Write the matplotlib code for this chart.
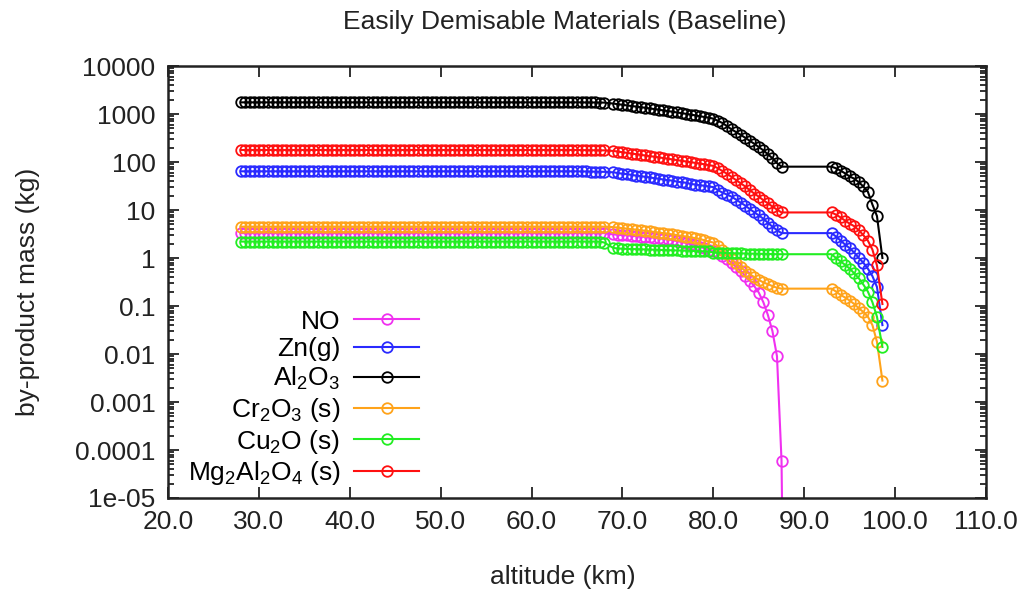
import numpy as np
import matplotlib.pyplot as plt
from matplotlib.ticker import FixedLocator, LogLocator, NullFormatter

plt.rcParams["font.family"] = ["Liberation Sans", "DejaVu Sans"]
plt.rcParams["mathtext.fontset"] = "custom"
plt.rcParams["mathtext.rm"] = "Liberation Sans"
plt.rcParams["mathtext.it"] = "Liberation Sans:italic"

# altitude grid (km)
alt_high = [28.0, 28.5, 29.0, 29.5, 30.0, 30.5, 31.0, 31.5, 32.0, 32.5, 33.0, 33.5, 34.0, 34.5,
            35.0, 35.5, 36.0, 36.5, 37.0, 37.5, 38.0, 38.5, 39.0, 39.5, 40.0, 40.5, 41.0, 41.5,
            42.0, 42.5, 43.0, 43.5, 44.0, 44.5, 45.0, 45.5, 46.0, 46.5, 47.0, 47.5, 48.0, 48.5,
            49.0, 49.5, 50.0, 50.5, 51.0, 51.5, 52.0, 52.5, 53.0, 53.5, 54.0, 54.5, 55.0, 55.5,
            56.0, 56.5, 57.0, 57.5, 58.0, 58.5, 59.0, 59.5, 60.0, 60.5, 61.0, 61.5, 62.0, 62.5,
            63.0, 63.5, 64.0, 64.5, 65.0, 65.5, 66.0, 66.5, 67.0, 67.5, 68.0]
alt_mid = [69.0, 69.5, 70.0, 70.5, 71.0, 71.5, 72.0, 72.5, 73.0, 73.5, 74.0, 74.5, 75.0,
           75.5, 76.0, 76.5, 77.0, 77.5, 78.0, 78.5, 79.0, 79.5, 80.0, 80.5, 81.0, 81.5,
           82.0, 82.5, 83.0, 83.5, 84.0, 84.5, 85.0, 85.5, 86.0, 86.5, 87.0, 87.5]
alt_low = [93.0, 93.5, 94.0, 94.5, 95.0, 95.5, 96.0, 96.5, 97.0, 97.5, 98.0, 98.6]

# by-product mass (kg) per species
al2o3_high = [1750, 1750, 1750, 1750, 1750, 1750, 1750, 1750, 1750, 1750, 1750, 1750, 1750, 1750,
              1750, 1750, 1750, 1750, 1750, 1750, 1750, 1750, 1750, 1750, 1750, 1750, 1750, 1750,
              1750, 1750, 1750, 1750, 1750, 1750, 1750, 1750, 1750, 1750, 1750, 1750, 1750, 1750,
              1750, 1750, 1750, 1750, 1750, 1750, 1750, 1750, 1750, 1750, 1750, 1750, 1750, 1750,
              1750, 1750, 1750, 1750, 1750, 1750, 1750, 1750, 1750, 1750, 1750, 1750, 1750, 1750,
              1750, 1750, 1750, 1750, 1750, 1750, 1740, 1740, 1740, 1730, 1730]
al2o3_mid = [1650, 1600, 1560, 1510, 1470, 1430, 1390, 1350, 1310, 1270, 1230, 1190, 1150,
             1110, 1080, 1040, 1010, 970, 940, 900, 870, 840, 800, 720, 650, 560,
             480, 420, 370, 320, 275, 240, 205, 175, 145, 120, 95, 80]
al2o3_low = [80, 74, 66, 58, 50, 45, 38, 31, 24, 13, 7.5, 1.0]

mg_high = [178, 178, 178, 178, 178, 178, 178, 178, 178, 178, 178, 178, 178, 178,
           178, 178, 178, 178, 178, 178, 178, 178, 178, 178, 178, 178, 178, 178,
           178, 178, 178, 178, 178, 178, 178, 178, 178, 178, 178, 178, 178, 178,
           178, 178, 178, 178, 178, 178, 178, 178, 178, 178, 178, 178, 178, 178,
           178, 178, 178, 178, 178, 178, 178, 178, 178, 178, 178, 178, 178, 178,
           178, 178, 178, 178, 178, 177, 177, 176, 176, 175, 175]
mg_mid = [170, 165, 160, 155, 150, 146, 141, 137, 133, 129, 125, 121, 117,
          113, 110, 106, 103, 100, 96, 93, 90, 86, 83, 74, 65, 57,
          49, 42, 36, 31, 26, 22, 19, 16, 13.8, 11.8, 10.2, 8.9]
mg_low = [8.9, 8.0, 7.0, 6.0, 5.2, 4.6, 3.8, 3.0, 2.3, 1.5, 0.7, 0.11]

zn_high = [64, 64, 64, 64, 64, 64, 64, 64, 64, 64, 64, 64, 64, 64,
           64, 64, 64, 64, 64, 64, 64, 64, 64, 64, 64, 64, 64, 64,
           64, 64, 64, 64, 64, 64, 64, 64, 64, 64, 64, 64, 64, 64,
           64, 64, 64, 64, 64, 64, 64, 64, 64, 64, 64, 64, 64, 64,
           64, 64, 64, 64, 64, 64, 64, 64, 64, 64, 64, 64, 64, 64,
           64, 64, 64, 64, 64, 63.5, 63.5, 63, 63, 62.5, 62.5]
zn_mid = [61, 59, 57, 56, 54, 52, 51, 49, 48, 46, 45, 43, 42,
          41, 39, 38, 37, 35, 34, 33, 32, 31, 30, 26, 23, 21,
          19, 16.5, 14.3, 12.4, 10.5, 9.0, 7.7, 6.6, 5.4, 4.5, 3.8, 3.3]
zn_low = [3.3, 2.8, 2.3, 1.9, 1.6, 1.3, 1.0, 0.8, 0.6, 0.42, 0.25, 0.04]

cr_high = [4.5, 4.5, 4.5, 4.5, 4.5, 4.5, 4.5, 4.5, 4.5, 4.5, 4.5, 4.5, 4.5, 4.5,
           4.5, 4.5, 4.5, 4.5, 4.5, 4.5, 4.5, 4.5, 4.5, 4.5, 4.5, 4.5, 4.5, 4.5,
           4.5, 4.5, 4.5, 4.5, 4.5, 4.5, 4.5, 4.5, 4.5, 4.5, 4.5, 4.5, 4.5, 4.5,
           4.5, 4.5, 4.5, 4.5, 4.5, 4.5, 4.5, 4.5, 4.5, 4.5, 4.5, 4.5, 4.5, 4.5,
           4.5, 4.5, 4.5, 4.5, 4.5, 4.5, 4.5, 4.5, 4.5, 4.5, 4.5, 4.5, 4.5, 4.5,
           4.5, 4.5, 4.5, 4.5, 4.5, 4.5, 4.5, 4.5, 4.5, 4.5, 4.5]
cr_mid = [4.4, 4.3, 4.2, 4.1, 4.0, 3.9, 3.8, 3.7, 3.6, 3.5, 3.4, 3.3, 3.2,
          3.1, 3.0, 2.9, 2.8, 2.7, 2.6, 2.5, 2.35, 2.2, 2.1, 1.75, 1.45, 1.2,
          0.95, 0.78, 0.65, 0.54, 0.46, 0.40, 0.35, 0.31, 0.285, 0.26, 0.24, 0.23]
cr_low = [0.23, 0.2, 0.17, 0.15, 0.13, 0.11, 0.09, 0.075, 0.06, 0.04, 0.018, 0.0028]

no_high = [3.3, 3.3, 3.3, 3.3, 3.3, 3.3, 3.3, 3.3, 3.3, 3.3, 3.3, 3.3, 3.3, 3.3,
           3.3, 3.3, 3.3, 3.3, 3.3, 3.3, 3.3, 3.3, 3.3, 3.3, 3.3, 3.3, 3.3, 3.3,
           3.3, 3.3, 3.3, 3.3, 3.3, 3.3, 3.3, 3.3, 3.3, 3.3, 3.3, 3.3, 3.3, 3.3,
           3.3, 3.3, 3.3, 3.3, 3.3, 3.3, 3.3, 3.3, 3.3, 3.3, 3.3, 3.3, 3.3, 3.3,
           3.3, 3.3, 3.3, 3.3, 3.3, 3.3, 3.3, 3.3, 3.3, 3.3, 3.3, 3.3, 3.3, 3.3,
           3.3, 3.3, 3.3, 3.3, 3.3, 3.3, 3.3, 3.3, 3.3, 3.3, 3.3]
no_mid = [3.1, 3.05, 3.0, 2.95, 2.9, 2.85, 2.8, 2.75, 2.7, 2.65, 2.6, 2.5, 2.45,
          2.35, 2.25, 2.15, 2.05, 1.95, 1.85, 1.7, 1.6, 1.5, 1.4, 1.25, 1.1, 0.95,
          0.8, 0.65, 0.53, 0.43, 0.34, 0.26, 0.19, 0.12, 0.065, 0.03, 0.009, 0.00006]
no_tail_alt = [88.0]
no_tail = [1e-12]

cu_high = [2.2, 2.2, 2.2, 2.2, 2.2, 2.2, 2.2, 2.2, 2.2, 2.2, 2.2, 2.2, 2.2, 2.2,
           2.2, 2.2, 2.2, 2.2, 2.2, 2.2, 2.2, 2.2, 2.2, 2.2, 2.2, 2.2, 2.2, 2.2,
           2.2, 2.2, 2.2, 2.2, 2.2, 2.2, 2.2, 2.2, 2.2, 2.2, 2.2, 2.2, 2.2, 2.2,
           2.2, 2.2, 2.2, 2.2, 2.2, 2.2, 2.2, 2.2, 2.2, 2.2, 2.2, 2.2, 2.2, 2.2,
           2.2, 2.2, 2.2, 2.2, 2.2, 2.2, 2.2, 2.2, 2.2, 2.2, 2.2, 2.2, 2.2, 2.2,
           2.2, 2.2, 2.2, 2.2, 2.2, 2.2, 2.2, 2.2, 2.2, 2.2, 2.1]
cu_mid = [1.62, 1.58, 1.56, 1.55, 1.54, 1.53, 1.52, 1.51, 1.5, 1.49, 1.48, 1.47, 1.46,
          1.45, 1.44, 1.43, 1.42, 1.41, 1.4, 1.39, 1.38, 1.37, 1.3, 1.29, 1.28, 1.27,
          1.26, 1.25, 1.25, 1.24, 1.23, 1.23, 1.22, 1.22, 1.21, 1.21, 1.2, 1.2]
cu_low = [1.2, 1.0, 0.85, 0.72, 0.6, 0.48, 0.38, 0.28, 0.2, 0.12, 0.06, 0.014]

series = [
    ("NO", "#f030f0", alt_high + alt_mid + no_tail_alt, no_high + no_mid + no_tail),
    ("Zn(g)", "#2a2aff", alt_high + alt_mid + alt_low, zn_high + zn_mid + zn_low),
    (r"Al$_2$O$_3$", "#000000", alt_high + alt_mid + alt_low, al2o3_high + al2o3_mid + al2o3_low),
    (r"Cr$_2$O$_3$ (s)", "#ffa31a", alt_high + alt_mid + alt_low, cr_high + cr_mid + cr_low),
    (r"Cu$_2$O (s)", "#22ee22", alt_high + alt_mid + alt_low, cu_high + cu_mid + cu_low),
    (r"Mg$_2$Al$_2$O$_4$ (s)", "#ff1010", alt_high + alt_mid + alt_low, mg_high + mg_mid + mg_low),
]

x_ticks = [20, 30, 40, 50, 60, 70, 80, 90, 100, 110]
y_ticks = [1e-5, 1e-4, 1e-3, 1e-2, 1e-1, 1, 10, 100, 1000, 10000]
y_labels = ["1e-05", "0.0001", "0.001", "0.01", "0.1", "1", "10", "100", "1000", "10000"]

FS = 19
TXT = "#222222"

fig = plt.figure(figsize=(10.22, 5.89), dpi=100)
ax = fig.add_axes([0.1644, 0.1545, 0.8004, 0.7334])

for label, color, x, y in series:
    ax.plot(x, y, color=color, lw=1.5, marker="o", ms=7.6, mfc="none",
            mec=color, mew=1.3, label=label)

ax.set_yscale("log")
ax.set_xlim(20, 110)
ax.set_ylim(1e-5, 1e4)

ax.xaxis.set_major_locator(FixedLocator(x_ticks))
ax.set_xticklabels([f"{t:.1f}" for t in x_ticks])
ax.yaxis.set_major_locator(FixedLocator(y_ticks))
ax.set_yticklabels(y_labels)
ax.yaxis.set_minor_locator(LogLocator(base=10, subs=np.arange(2, 10), numticks=20))
ax.yaxis.set_minor_formatter(NullFormatter())

ax.tick_params(which="both", direction="in", top=True, right=True, width=1.3, colors=TXT)
ax.tick_params(which="major", length=8, labelsize=FS)
ax.tick_params(axis="x", which="major", pad=9)
ax.tick_params(axis="y", which="major", pad=9)
ax.tick_params(which="minor", length=4)
for sp in ax.spines.values():
    sp.set_linewidth(1.8)
    sp.set_color(TXT)

fig.text(0.553, 1 - 22 / 589, "Easily Demisable Materials (Baseline)", ha="center", va="center",
         fontsize=FS, color=TXT)
fig.text(0.551, 1 - 577 / 589, "altitude (km)", ha="center", va="center", fontsize=FS, color=TXT)
fig.text(0.027, 1 - 292 / 589, "by-product mass (kg)", ha="center", va="center", rotation=90,
         fontsize=FS, color=TXT)

ax.legend(loc="lower right", bbox_to_anchor=(0.33, -0.018), frameon=False, markerfirst=False,
          fontsize=FS, handlelength=2.5, handletextpad=0.5, labelspacing=0.14, borderaxespad=0.3)

fig.savefig("out.png", dpi=100)
